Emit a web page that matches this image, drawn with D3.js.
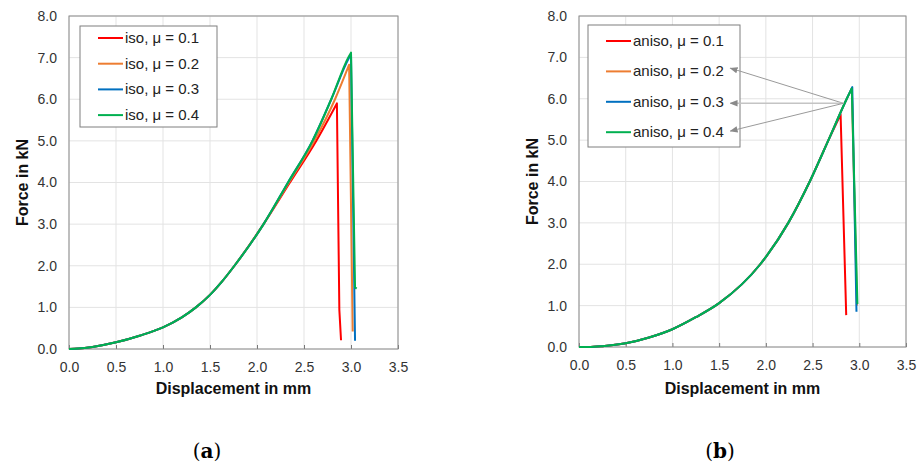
<!DOCTYPE html>
<html lang="en">
<head>
<meta charset="UTF-8">
<title>Force - displacement</title>
<script src="https://cdn.jsdelivr.net/npm/d3@7/dist/d3.min.js"></script>
<style>
body{margin:0;background:#fff;}
text{font-family:"Liberation Sans",Arial,sans-serif;}
</style>
</head>
<body>
<script>
// ticks
var xTicks = [0, 0.5, 1.0, 1.5, 2.0, 2.5, 3.0, 3.5];
var yTicks = [0, 1, 2, 3, 4, 5, 6, 7, 8];
var colors = ["#ff0000", "#ed7d31", "#0070c0", "#00b050"];
var isoLabels = ["iso, μ = 0.1", "iso, μ = 0.2", "iso, μ = 0.3", "iso, μ = 0.4"];
var anisoLabels = ["aniso, μ = 0.1", "aniso, μ = 0.2", "aniso, μ = 0.3", "aniso, μ = 0.4"];

// (a) iso  -- displacement (mm) / force (kN)
var isoDisp1 = [0, 0.1, 0.25, 0.5, 0.75, 1.0, 1.2, 1.35, 1.5, 1.62, 1.76, 2.07, 2.35, 2.63, 2.85, 2.876, 2.894];
var isoForce1 = [0, 0.01, 0.05, 0.16, 0.32, 0.52, 0.76, 1.0, 1.3, 1.6, 2.0, 3.0, 4.0, 5.0, 5.9, 0.94, 0.21];
var isoDisp2 = [0, 0.1, 0.25, 0.5, 0.75, 1.0, 1.2, 1.35, 1.5, 1.62, 1.76, 2.07, 2.34, 2.61, 2.83, 2.98, 3.018];
var isoForce2 = [0, 0.01, 0.05, 0.16, 0.32, 0.52, 0.76, 1.0, 1.3, 1.6, 2.0, 3.0, 4.0, 5.0, 6.0, 6.83, 0.42];
var isoDisp3 = [0, 0.1, 0.25, 0.5, 0.75, 1.0, 1.2, 1.35, 1.5, 1.62, 1.76, 2.07, 2.33, 2.59, 2.79, 2.975, 3.0, 3.043];
var isoForce3 = [0, 0.01, 0.05, 0.16, 0.32, 0.52, 0.76, 1.0, 1.3, 1.6, 2.0, 3.0, 4.0, 5.0, 6.0, 6.98, 7.08, 0.2];
var isoDisp4 = [0, 0.1, 0.25, 0.5, 0.75, 1.0, 1.2, 1.35, 1.5, 1.62, 1.76, 2.07, 2.33, 2.59, 2.79, 2.97, 3.0, 3.043, 3.06];
var isoForce4 = [0, 0.01, 0.05, 0.16, 0.32, 0.52, 0.76, 1.0, 1.3, 1.6, 2.0, 3.0, 4.0, 5.0, 6.0, 7.0, 7.12, 1.48, 1.45];

// (b) aniso
var anisoDisp1 = [0, 0.1, 0.25, 0.5, 0.75, 1.0, 1.25, 1.5, 1.94, 2.24, 2.47, 2.67, 2.8, 2.86];
var anisoForce1 = [0, 0, 0.02, 0.09, 0.23, 0.43, 0.72, 1.06, 2.0, 3.0, 4.0, 5.0, 5.62, 0.77];
var anisoDisp2 = [0, 0.1, 0.25, 0.5, 0.75, 1.0, 1.25, 1.5, 1.94, 2.24, 2.47, 2.67, 2.866, 2.92, 2.975];
var anisoForce2 = [0, 0, 0.02, 0.09, 0.23, 0.43, 0.72, 1.06, 2.0, 3.0, 4.0, 5.0, 6.0, 6.25, 1.0];
var anisoDisp3 = [0, 0.1, 0.25, 0.5, 0.75, 1.0, 1.25, 1.5, 1.94, 2.24, 2.47, 2.67, 2.866, 2.925, 2.97];
var anisoForce3 = [0, 0, 0.02, 0.09, 0.23, 0.43, 0.72, 1.06, 2.0, 3.0, 4.0, 5.0, 6.0, 6.28, 0.85];
var anisoDisp4 = [0, 0.1, 0.25, 0.5, 0.75, 1.0, 1.25, 1.5, 1.94, 2.24, 2.47, 2.67, 2.866, 2.92, 2.975, 2.98];
var anisoForce4 = [0, 0, 0.02, 0.09, 0.23, 0.43, 0.72, 1.06, 2.0, 3.0, 4.0, 5.0, 6.0, 6.25, 1.46, 1.04];

// arrow annotation (b): from curve point to legend entries 0.2, 0.3, 0.4
var arrowFrom = [2.83, 5.89];
var arrowTo = [[1.62, 6.74], [1.62, 5.89], [1.62, 5.22]];

var width = 921, height = 466;
var svg = d3.select("body").append("svg").attr("width", width).attr("height", height);

svg.append("defs").append("marker")
  .attr("id", "arr").attr("viewBox", "0 0 10 10").attr("refX", 9).attr("refY", 5)
  .attr("markerUnits", "userSpaceOnUse")
  .attr("markerWidth", 8).attr("markerHeight", 8).attr("orient", "auto")
  .append("path").attr("d", "M0,1 L10,5 L0,9 z").attr("fill", "#8a8a8a");

function panel(cfg) {
  var x = d3.scaleLinear().domain([0, 3.5]).range([cfg.left, cfg.right]);
  var y = d3.scaleLinear().domain([0, 8]).range([cfg.bottom, cfg.top]);
  var g = svg.append("g");

  // grid
  g.selectAll(".vg").data(xTicks).enter().append("line")
    .attr("x1", function(d){return x(d);}).attr("x2", function(d){return x(d);})
    .attr("y1", y(0)).attr("y2", y(8)).attr("stroke", "#e3e3e3").attr("stroke-width", 1);
  g.selectAll(".hg").data(yTicks).enter().append("line")
    .attr("x1", x(0)).attr("x2", x(3.5))
    .attr("y1", function(d){return y(d);}).attr("y2", function(d){return y(d);})
    .attr("stroke", "#e3e3e3").attr("stroke-width", 1);

  // axes
  var xAxis = d3.axisBottom(x).tickValues(xTicks).tickFormat(d3.format(".1f"))
    .tickSizeInner(-4).tickSizeOuter(0).tickPadding(13);
  var gx = g.append("g").attr("transform", "translate(0," + cfg.bottom + ")").call(xAxis);
  gx.select(".domain").remove();
  gx.selectAll("line").attr("stroke", "#777");
  gx.selectAll("text").attr("font-size", "14px").attr("fill", "#333")
    .style("font-family", "'Liberation Sans', Arial, sans-serif");

  var yAxis = d3.axisLeft(y).tickValues(yTicks).tickFormat(d3.format(".1f"))
    .tickSize(0).tickPadding(12);
  var gy = g.append("g").attr("transform", "translate(" + cfg.left + ",0)").call(yAxis);
  gy.select(".domain").remove();
  gy.selectAll("text").attr("font-size", "14px").attr("fill", "#333")
    .style("font-family", "'Liberation Sans', Arial, sans-serif");

  // plot border
  g.append("rect").attr("x", x(0)).attr("y", y(8))
    .attr("width", x(3.5) - x(0)).attr("height", y(0) - y(8))
    .attr("fill", "none").attr("stroke", "#8c8c8c").attr("stroke-width", 1);

  // curves: smooth loading branch, straight drop after the peak
  var smooth = d3.line().curve(d3.curveMonotoneX)
    .x(function(d){return x(d[0]);}).y(function(d){return y(d[1]);});
  var straight = d3.line().x(function(d){return x(d[0]);}).y(function(d){return y(d[1]);});
  cfg.disp.forEach(function(xs, i) {
    var fs = cfg.force[i];
    var pts = xs.map(function(v, k){return [v, fs[k]];});
    var peak = d3.maxIndex(fs);
    var path = smooth(pts.slice(0, peak + 1)) + straight(pts.slice(peak)).replace(/^M[^L]*/, "");
    g.append("path").attr("d", path)
      .attr("fill", "none").attr("stroke", colors[i]).attr("stroke-width", 2)
      .attr("stroke-linejoin", "round");
  });

  // axis titles
  g.append("text").attr("x", (cfg.left + cfg.right) / 2).attr("y", 394)
    .attr("text-anchor", "middle").attr("font-size", "16px").attr("font-weight", "bold")
    .attr("fill", "#111").text("Displacement in mm");
  g.append("text").attr("transform", "translate(" + cfg.yTitleX + "," + ((cfg.top + cfg.bottom) / 2) + ") rotate(-90)")
    .attr("text-anchor", "middle").attr("font-size", "16px").attr("font-weight", "bold")
    .attr("fill", "#111").text("Force in kN");

  // legend
  var L = cfg.legend;
  g.append("rect").attr("x", L.x).attr("y", L.y).attr("width", L.w).attr("height", L.h)
    .attr("fill", "#fff").attr("stroke", "#7f7f7f").attr("stroke-width", 1);
  cfg.labels.forEach(function(lab, i) {
    var yy = L.first + i * L.step;
    g.append("line").attr("x1", L.lx).attr("x2", L.lx + 25).attr("y1", yy).attr("y2", yy)
      .attr("stroke", colors[i]).attr("stroke-width", 2);
    g.append("text").attr("x", L.lx + 27).attr("y", yy + 5).attr("font-size", "15px")
      .attr("fill", "#222").text(lab);
  });

  // caption
  var cap = svg.append("text").attr("x", cfg.capX).attr("y", 458).attr("text-anchor", "middle")
    .style("font-family", "'DejaVu Serif', 'Liberation Serif', serif").attr("font-size", "20px").attr("fill", "#000");
  cap.append("tspan").text("(");
  cap.append("tspan").attr("font-weight", "bold").text(cfg.cap);
  cap.append("tspan").text(")");

  return {x: x, y: y, g: g};
}

var pa = panel({
  left: 69, right: 398, top: 16, bottom: 349, yTitleX: 28,
  disp: [isoDisp1, isoDisp2, isoDisp3, isoDisp4],
  force: [isoForce1, isoForce2, isoForce3, isoForce4],
  labels: isoLabels,
  legend: {x: 80, y: 26, w: 137, h: 101, first: 38, step: 25.7, lx: 98},
  capX: 207, cap: "a"
});

var pb = panel({
  left: 579, right: 906, top: 16, bottom: 347, yTitleX: 538,
  disp: [anisoDisp1, anisoDisp2, anisoDisp3, anisoDisp4],
  force: [anisoForce1, anisoForce2, anisoForce3, anisoForce4],
  labels: anisoLabels,
  legend: {x: 588, y: 25, w: 152, h: 122, first: 41, step: 30.4, lx: 606},
  capX: 720, cap: "b"
});

// annotation arrows in (b)
arrowTo.forEach(function(t, i) {
  pb.g.append("line")
    .attr("x1", pb.x(arrowFrom[0])).attr("y1", pb.y(arrowFrom[1]))
    .attr("x2", pb.x(t[0])).attr("y2", pb.y(t[1]))
    .attr("stroke", i == 1 ? "#c4c4c4" : "#9a9a9a").attr("stroke-width", i == 1 ? 1.6 : 1)
    .attr("marker-end", "url(#arr)");
});
</script>
</body>
</html>
